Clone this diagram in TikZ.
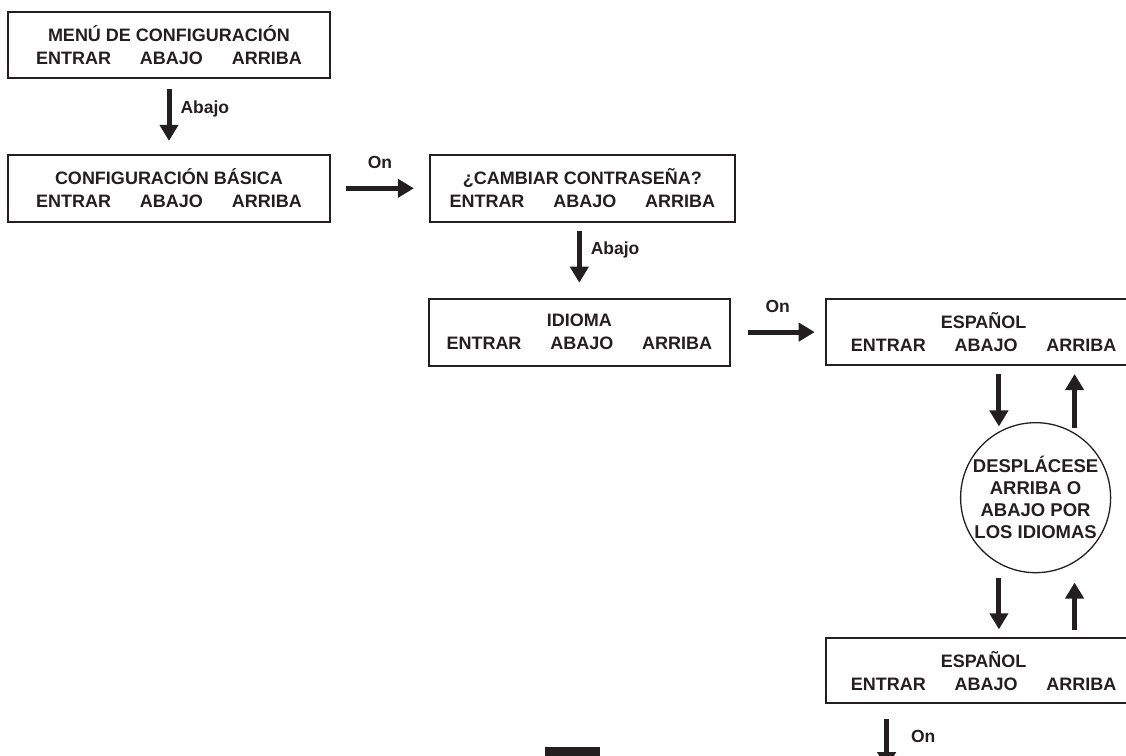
\documentclass[tikz,border=0pt]{standalone}
\usepackage{fontspec}
\setmainfont{Liberation Sans}
\usepackage{xcolor}
\usetikzlibrary{positioning, arrows.meta}

\definecolor{tinta}{RGB}{35,31,32}
\newcommand{\teclas}{ENTRAR\hspace{1.6em}ABAJO\hspace{1.6em}ARRIBA}

\begin{document}
\begin{tikzpicture}[
    color=tinta,
    box/.style={
        rectangle,
        draw,
        line width=1.8pt,
        minimum height=66pt,
        inner sep=0pt,
        align=center,
        font=\fontsize{18}{23}\selectfont\bfseries
    },
    bubble/.style={
        circle,
        draw,
        line width=1.3pt,
        minimum size=150pt,
        inner sep=0pt,
        align=center,
        font=\fontsize{18.5}{22}\selectfont\bfseries
    },
    arrow/.style={
        line width=5pt,
        -{Triangle[width=18pt,length=16pt]}
    },
    tag/.style={
        inner sep=0pt,
        font=\fontsize{17.5}{19}\selectfont\bfseries
    }
]

\useasboundingbox (0,0) rectangle (1126pt,-755pt);

% Menu boxes

\node[box, minimum width=322pt] (menu) at (169pt,-45pt) {
MENÚ DE CONFIGURACIÓN\\ \teclas
};

\node[box, minimum width=322pt, minimum height=67pt, below=75pt of menu] (basica) {
CONFIGURACIÓN BÁSICA\\ \teclas
};

\node[box, minimum width=305pt, minimum height=67pt, right=98pt of basica] (cambiar) {
¿CAMBIAR CONTRASEÑA?\\ \teclas
};

\node[box, minimum width=301pt, minimum height=67pt, below=75pt of cambiar, xshift=-3pt] (idioma) {
IDIOMA\\ \teclas
};

\node[box, minimum width=316pt, right=94pt of idioma] (espanol) {
ESPAÑOL\\ \teclas
};

\node[bubble, below=56pt of espanol, xshift=52pt] (scroll) {
DESPLÁCESE\\ARRIBA O\\ABAJO POR\\LOS IDIOMAS
};

\node[box, minimum width=316pt, minimum height=65pt, below=64pt of scroll, xshift=-52pt] (espanoldos) {
ESPAÑOL\\ \teclas
};

\coordinate (salida) at ([xshift=-97pt, yshift=-64pt]espanoldos.south);

% Arrows

\draw[arrow, shorten <=10pt, shorten >=13pt] (menu) -- node[tag, right=9pt, pos=0.4] {Abajo} (basica);
\draw[arrow, shorten <=15pt, shorten >=15pt] (basica) -- node[tag, above=17pt] {On} (cambiar);
\draw[arrow, shorten <=8pt, shorten >=15pt] (idioma.north |- cambiar.south) -- node[tag, right=9pt, pos=0.37] {Abajo} (idioma.north);
\draw[arrow, shorten <=17pt, shorten >=10pt] (idioma) -- node[tag, above=17pt] {On} (espanol);

\draw[arrow, shorten <=8pt, shorten >=5pt] (espanol.south -| scroll.119) -- (scroll.119);
\draw[arrow, shorten <=5pt, shorten >=8pt] (scroll.59) -- (scroll.59 |- espanol.south);
\draw[arrow, shorten <=14pt, shorten >=8pt] (scroll.241) -- (scroll.241 |- espanoldos.north);
\draw[arrow, shorten <=7pt, shorten >=20pt] (espanoldos.north -| scroll.301) -- (scroll.301);

\draw[arrow, shorten <=15pt] (espanoldos.south -| salida) -- node[tag, right=22pt] {On} (salida);

% Page tab

\fill (545pt,-747pt) rectangle (600pt,-760pt);

\end{tikzpicture}
\end{document}
